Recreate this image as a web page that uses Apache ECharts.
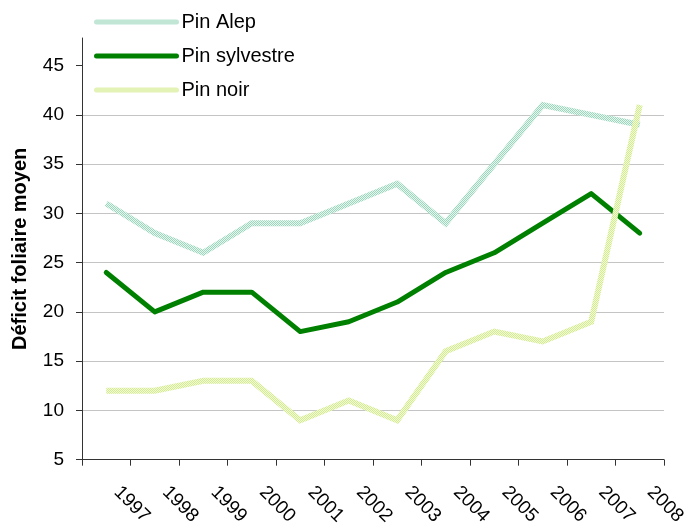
<!DOCTYPE html>
<html>
<head>
<meta charset="utf-8">
<script src="https://cdn.jsdelivr.net/npm/echarts@6/dist/echarts.min.js"></script>
<style>
  html, body { margin: 0; padding: 0; background: #fff; }
  #chart { width: 689px; height: 528px; }
</style>
</head>
<body>
<div id="chart"></div>
<script>
// Mean foliar deficit per year for three pine species
const years = ['1997', '1998', '1999', '2000', '2001', '2002', '2003', '2004', '2005', '2006', '2007', '2008'];
const pinAlep = [31, 28, 26, 29, 29, 31, 33, 29, 35, 41, 40, 39];
const pinSylvestre = [24, 20, 22, 22, 18, 19, 21, 24, 26, 29, 32, 28];
const pinNoir = [12, 12, 13, 13, 9, 11, 9, 16, 18, 17, 19, 41];
const yTicks = [5, 10, 15, 20, 25, 30, 35, 40, 45];

const FONT = 'Liberation Sans, Arial, sans-serif';

// Small checkered tile used as a textured stroke
function speckle(dark, light) {
  const c = document.createElement('canvas');
  c.width = 2; c.height = 2;
  const g = c.getContext('2d');
  g.fillStyle = light; g.fillRect(0, 0, 2, 2);
  g.fillStyle = dark; g.fillRect(0, 0, 1, 1); g.fillRect(1, 1, 1, 1);
  return { image: c, repeat: 'repeat' };
}

const chart = echarts.init(document.getElementById('chart'), null, { renderer: 'canvas' });

chart.setOption({
  animation: false,
  backgroundColor: '#fff',
  grid: { left: 82, right: 24, top: 38, bottom: 66, containLabel: false },
  legend: {
    orient: 'vertical',
    left: 84,
    top: 0,
    padding: [12, 11, 8, 10],
    backgroundColor: '#fff',
    itemWidth: 80,
    itemHeight: 14,
    itemGap: 14,
    itemStyle: { opacity: 0 },
    lineStyle: { width: 5, cap: 'round' },
    textStyle: { fontFamily: FONT, fontSize: 20, color: '#000' },
    data: ['Pin Alep', 'Pin sylvestre', 'Pin noir']
  },
  xAxis: {
    type: 'category',
    data: years,
    boundaryGap: true,
    axisLine: { lineStyle: { color: '#333', width: 1 } },
    axisTick: { show: true, alignWithLabel: false, length: 6, lineStyle: { color: '#333' } },
    axisLabel: {
      rotate: -45, margin: 19, interval: 0, padding: [0, 0, 0, 15],
      fontFamily: FONT, fontSize: 19, color: '#000'
    },
    splitLine: { show: false }
  },
  yAxis: {
    type: 'value',
    min: 5,
    max: 47.8,
    interval: 5,
    name: 'Déficit foliaire moyen',
    nameLocation: 'middle',
    nameGap: 52,
    nameTextStyle: { fontFamily: FONT, fontSize: 20, fontWeight: 'bold', color: '#000' },
    axisLine: { show: true, lineStyle: { color: '#333', width: 1 } },
    axisTick: { show: true, length: 6, lineStyle: { color: '#333' }, customValues: yTicks },
    axisLabel: {
      margin: 18, fontFamily: FONT, fontSize: 19, color: '#000',
      customValues: yTicks
    },
    splitLine: { show: true, showMaxLine: false, lineStyle: { color: '#c4c4c4', width: 1 } }
  },
  series: [
    {
      name: 'Pin Alep',
      type: 'line',
      data: pinAlep,
      symbol: 'none',
      lineStyle: { width: 6, color: speckle('#9ad6bd', '#e8f6ef'), cap: 'butt', join: 'miter' },
      itemStyle: { color: '#b5e2cf' }
    },
    {
      name: 'Pin sylvestre',
      type: 'line',
      data: pinSylvestre,
      symbol: 'none',
      z: 3,
      lineStyle: { width: 5, color: '#008000', cap: 'round', join: 'round' },
      itemStyle: { color: '#008000' }
    },
    {
      name: 'Pin noir',
      type: 'line',
      data: pinNoir,
      symbol: 'none',
      lineStyle: { width: 6, color: speckle('#d2ec8a', '#f4fae0'), cap: 'butt', join: 'miter' },
      itemStyle: { color: '#dcf09e' }
    }
  ]
});
</script>
</body>
</html>
